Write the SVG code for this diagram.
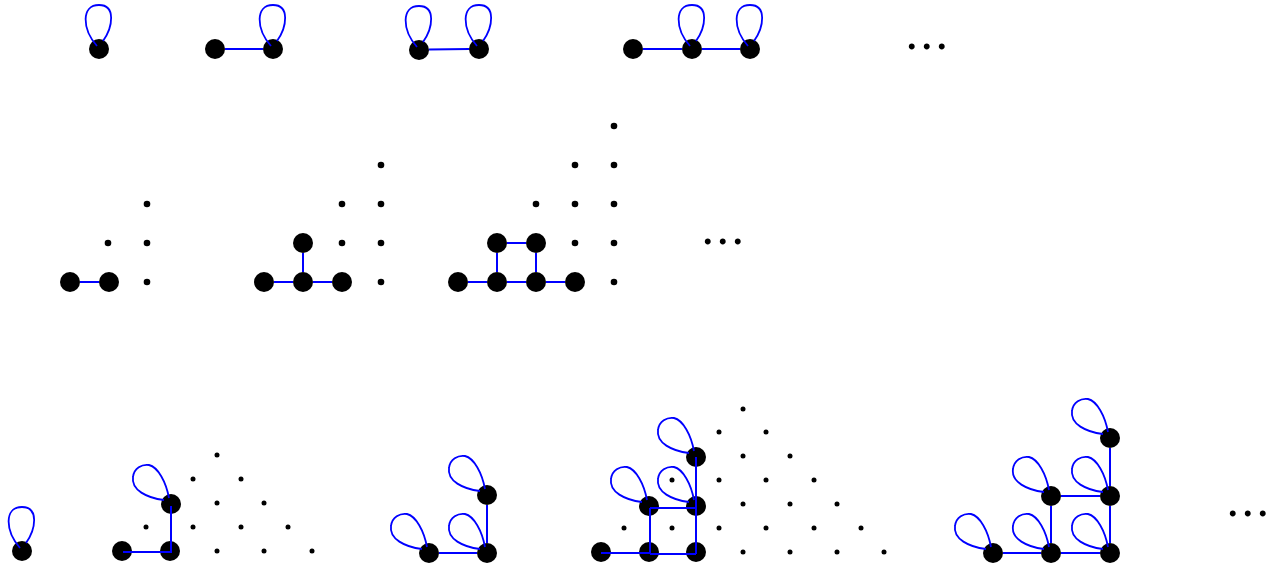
<svg xmlns="http://www.w3.org/2000/svg" xmlns:xlink="http://www.w3.org/1999/xlink" width="1276" height="567" viewBox="0 0 1276 567">
<style>
.node{fill:#000}
.dot{fill:#000}
.edge{stroke:#0000ff;stroke-width:2;fill:none}
.loop{stroke:#0000ff;stroke-width:1.8;fill:none}
.ell{font-family:"Liberation Serif","Times New Roman",serif;font-size:50px;letter-spacing:2.5px;fill:#000;text-anchor:middle}
</style>
<defs>
<path id="loopV" class="loop" d="M -2,-3 C -17,-20 -18,-44 0,-44 C 17,-44 14,-22 4,-8"/>
<path id="loopT" class="loop" d="M -7,-4 C -24,-6 -40,-14 -38,-27 C -37,-36 -29,-40 -22,-39 C -13,-37 -5,-22 -2,-6"/>
</defs>
<rect width="1276" height="567" fill="#fff"/>

<!-- top row nodes -->
<g id="t1-a"><circle class="node" cx="99" cy="49" r="10"/></g>
<g id="t2-a"><circle class="node" cx="215" cy="49" r="10"/></g>
<g id="t2-b"><circle class="node" cx="273" cy="49" r="10"/></g>
<g id="t3-a"><circle class="node" cx="419" cy="50" r="10"/></g>
<g id="t3-b"><circle class="node" cx="479" cy="49" r="10"/></g>
<g id="t4-a"><circle class="node" cx="633" cy="49" r="10"/></g>
<g id="t4-b"><circle class="node" cx="692" cy="49" r="10"/></g>
<g id="t4-c"><circle class="node" cx="750" cy="49" r="10"/></g>
<text class="ell" x="928" y="48.5">...</text>

<!-- middle row -->
<g id="m1-a"><circle class="node" cx="70" cy="282" r="10"/></g>
<g id="m1-b"><circle class="node" cx="109" cy="282" r="10"/></g>
<g id="m1-lattice">
<circle class="dot" cx="108" cy="243" r="3.3"/><circle class="dot" cx="147" cy="282" r="3.3"/>
<circle class="dot" cx="147" cy="243" r="3.3"/><circle class="dot" cx="147" cy="204" r="3.3"/>
</g>
<g id="m2-a"><circle class="node" cx="264" cy="282" r="10"/></g>
<g id="m2-b"><circle class="node" cx="303" cy="282" r="10"/></g>
<g id="m2-c"><circle class="node" cx="342" cy="282" r="10"/></g>
<g id="m2-d"><circle class="node" cx="303" cy="243" r="10"/></g>
<g id="m2-lattice">
<circle class="dot" cx="342" cy="243" r="3.3"/><circle class="dot" cx="342" cy="204" r="3.3"/>
<circle class="dot" cx="381" cy="282" r="3.3"/><circle class="dot" cx="381" cy="243" r="3.3"/>
<circle class="dot" cx="381" cy="204" r="3.3"/><circle class="dot" cx="381" cy="165" r="3.3"/>
</g>
<g id="m3-a"><circle class="node" cx="458" cy="282" r="10"/></g>
<g id="m3-b"><circle class="node" cx="497" cy="282" r="10"/></g>
<g id="m3-c"><circle class="node" cx="536" cy="282" r="10"/></g>
<g id="m3-d"><circle class="node" cx="575" cy="282" r="10"/></g>
<g id="m3-e"><circle class="node" cx="497" cy="243" r="10"/></g>
<g id="m3-f"><circle class="node" cx="536" cy="243" r="10"/></g>
<g id="m3-lattice">
<circle class="dot" cx="536" cy="204" r="3.3"/><circle class="dot" cx="575" cy="243" r="3.3"/>
<circle class="dot" cx="575" cy="204" r="3.3"/><circle class="dot" cx="575" cy="165" r="3.3"/>
<circle class="dot" cx="614" cy="282" r="3.3"/><circle class="dot" cx="614" cy="243" r="3.3"/>
<circle class="dot" cx="614" cy="204" r="3.3"/><circle class="dot" cx="614" cy="165" r="3.3"/>
<circle class="dot" cx="614" cy="126" r="3.3"/>
</g>
<text class="ell" x="724" y="243.5">...</text>

<!-- bottom row -->
<g id="b1-a"><circle class="node" cx="22" cy="551" r="10"/></g>
<g id="b2-a"><circle class="node" cx="122" cy="551" r="10"/></g>
<g id="b2-b"><circle class="node" cx="170" cy="551" r="10"/></g>
<g id="b2-c"><circle class="node" cx="171" cy="504" r="10"/></g>
<g id="b2-lattice">
<circle class="dot" cx="217" cy="455" r="2.5"/>
<circle class="dot" cx="193" cy="479" r="2.5"/><circle class="dot" cx="241" cy="479" r="2.5"/>
<circle class="dot" cx="217" cy="503" r="2.5"/><circle class="dot" cx="264" cy="503" r="2.5"/>
<circle class="dot" cx="146" cy="527" r="2.5"/><circle class="dot" cx="193" cy="527" r="2.5"/>
<circle class="dot" cx="241" cy="527" r="2.5"/><circle class="dot" cx="288" cy="527" r="2.5"/>
<circle class="dot" cx="217" cy="551" r="2.5"/><circle class="dot" cx="264" cy="551" r="2.5"/>
<circle class="dot" cx="312" cy="551" r="2.5"/>
</g>
<g id="b3-a"><circle class="node" cx="429" cy="553" r="10"/></g>
<g id="b3-b"><circle class="node" cx="487" cy="553" r="10"/></g>
<g id="b3-c"><circle class="node" cx="487" cy="495" r="10"/></g>
<g id="b4-a"><circle class="node" cx="601" cy="552" r="10"/></g>
<g id="b4-b"><circle class="node" cx="649" cy="552" r="10"/></g>
<g id="b4-c"><circle class="node" cx="696" cy="552" r="10"/></g>
<g id="b4-d"><circle class="node" cx="649" cy="506" r="10"/></g>
<g id="b4-e"><circle class="node" cx="696" cy="506" r="10"/></g>
<g id="b4-f"><circle class="node" cx="696" cy="457" r="10"/></g>
<g id="b4-lattice">
<circle class="dot" cx="743" cy="409" r="2.5"/>
<circle class="dot" cx="719" cy="432" r="2.5"/><circle class="dot" cx="766" cy="432" r="2.5"/>
<circle class="dot" cx="743" cy="456" r="2.5"/><circle class="dot" cx="790" cy="456" r="2.5"/>
<circle class="dot" cx="672" cy="480" r="2.5"/><circle class="dot" cx="719" cy="480" r="2.5"/>
<circle class="dot" cx="766" cy="480" r="2.5"/><circle class="dot" cx="814" cy="480" r="2.5"/>
<circle class="dot" cx="743" cy="504" r="2.5"/><circle class="dot" cx="790" cy="504" r="2.5"/>
<circle class="dot" cx="837" cy="504" r="2.5"/>
<circle class="dot" cx="624" cy="528" r="2.5"/><circle class="dot" cx="672" cy="528" r="2.5"/>
<circle class="dot" cx="719" cy="528" r="2.5"/><circle class="dot" cx="766" cy="528" r="2.5"/>
<circle class="dot" cx="814" cy="528" r="2.5"/><circle class="dot" cx="861" cy="528" r="2.5"/>
<circle class="dot" cx="743" cy="552" r="2.5"/><circle class="dot" cx="790" cy="552" r="2.5"/>
<circle class="dot" cx="837" cy="552" r="2.5"/><circle class="dot" cx="884" cy="552" r="2.5"/>
</g>
<g id="b5-a"><circle class="node" cx="993" cy="553" r="10"/></g>
<g id="b5-b"><circle class="node" cx="1051" cy="553" r="10"/></g>
<g id="b5-c"><circle class="node" cx="1110" cy="553" r="10"/></g>
<g id="b5-d"><circle class="node" cx="1051" cy="496" r="10"/></g>
<g id="b5-e"><circle class="node" cx="1110" cy="496" r="10"/></g>
<g id="b5-f"><circle class="node" cx="1110" cy="438" r="10"/></g>
<text class="ell" x="1249" y="515.5">...</text>

<g id="connectors">
<!-- top row -->
<use xlink:href="#loopV" x="99" y="49"/>
<line class="edge" x1="225" y1="49" x2="263" y2="49"/>
<use xlink:href="#loopV" x="273" y="49"/>
<line class="edge" x1="429" y1="49.5" x2="469" y2="49"/>
<use xlink:href="#loopV" x="419" y="50"/>
<use xlink:href="#loopV" x="479" y="49"/>
<line class="edge" x1="643" y1="49" x2="682" y2="49"/>
<line class="edge" x1="702" y1="49" x2="740" y2="49"/>
<use xlink:href="#loopV" x="692" y="49"/>
<use xlink:href="#loopV" x="750" y="49"/>
<!-- middle row -->
<line class="edge" x1="80" y1="282" x2="99" y2="282"/>
<line class="edge" x1="274" y1="282" x2="293" y2="282"/>
<line class="edge" x1="313" y1="282" x2="332" y2="282"/>
<line class="edge" x1="303" y1="253" x2="303" y2="272"/>
<line class="edge" x1="468" y1="282" x2="487" y2="282"/>
<line class="edge" x1="507" y1="282" x2="526" y2="282"/>
<line class="edge" x1="546" y1="282" x2="565" y2="282"/>
<line class="edge" x1="497" y1="253" x2="497" y2="272"/>
<line class="edge" x1="536" y1="253" x2="536" y2="272"/>
<line class="edge" x1="507" y1="243" x2="526" y2="243"/>
<!-- bottom row -->
<use xlink:href="#loopV" x="22" y="551"/>
<polyline class="edge" points="123,552 171,552 171,506"/>
<use xlink:href="#loopT" x="171" y="504"/>
<line class="edge" x1="439" y1="553" x2="477" y2="553"/>
<line class="edge" x1="487" y1="505" x2="487" y2="543"/>
<use xlink:href="#loopT" x="429" y="553"/>
<use xlink:href="#loopT" x="487" y="553"/>
<use xlink:href="#loopT" x="487" y="495"/>
<line class="edge" x1="601" y1="553" x2="649" y2="553"/>
<line class="edge" x1="650" y1="554" x2="696" y2="554"/>
<line class="edge" x1="650" y1="508" x2="650" y2="554"/>
<line class="edge" x1="650" y1="508" x2="696" y2="508"/>
<line class="edge" x1="696" y1="457" x2="696" y2="554"/>
<use xlink:href="#loopT" x="649" y="506"/>
<use xlink:href="#loopT" x="696" y="506"/>
<use xlink:href="#loopT" x="696" y="457"/>
<line class="edge" x1="1003" y1="553" x2="1041" y2="553"/>
<line class="edge" x1="1061" y1="553" x2="1100" y2="553"/>
<line class="edge" x1="1051" y1="506" x2="1051" y2="543"/>
<line class="edge" x1="1061" y1="496" x2="1100" y2="496"/>
<line class="edge" x1="1110" y1="448" x2="1110" y2="486"/>
<line class="edge" x1="1110" y1="506" x2="1110" y2="543"/>
<use xlink:href="#loopT" x="993" y="553"/>
<use xlink:href="#loopT" x="1051" y="553"/>
<use xlink:href="#loopT" x="1110" y="553"/>
<use xlink:href="#loopT" x="1051" y="496"/>
<use xlink:href="#loopT" x="1110" y="496"/>
<use xlink:href="#loopT" x="1110" y="438"/>
</g>
</svg>
